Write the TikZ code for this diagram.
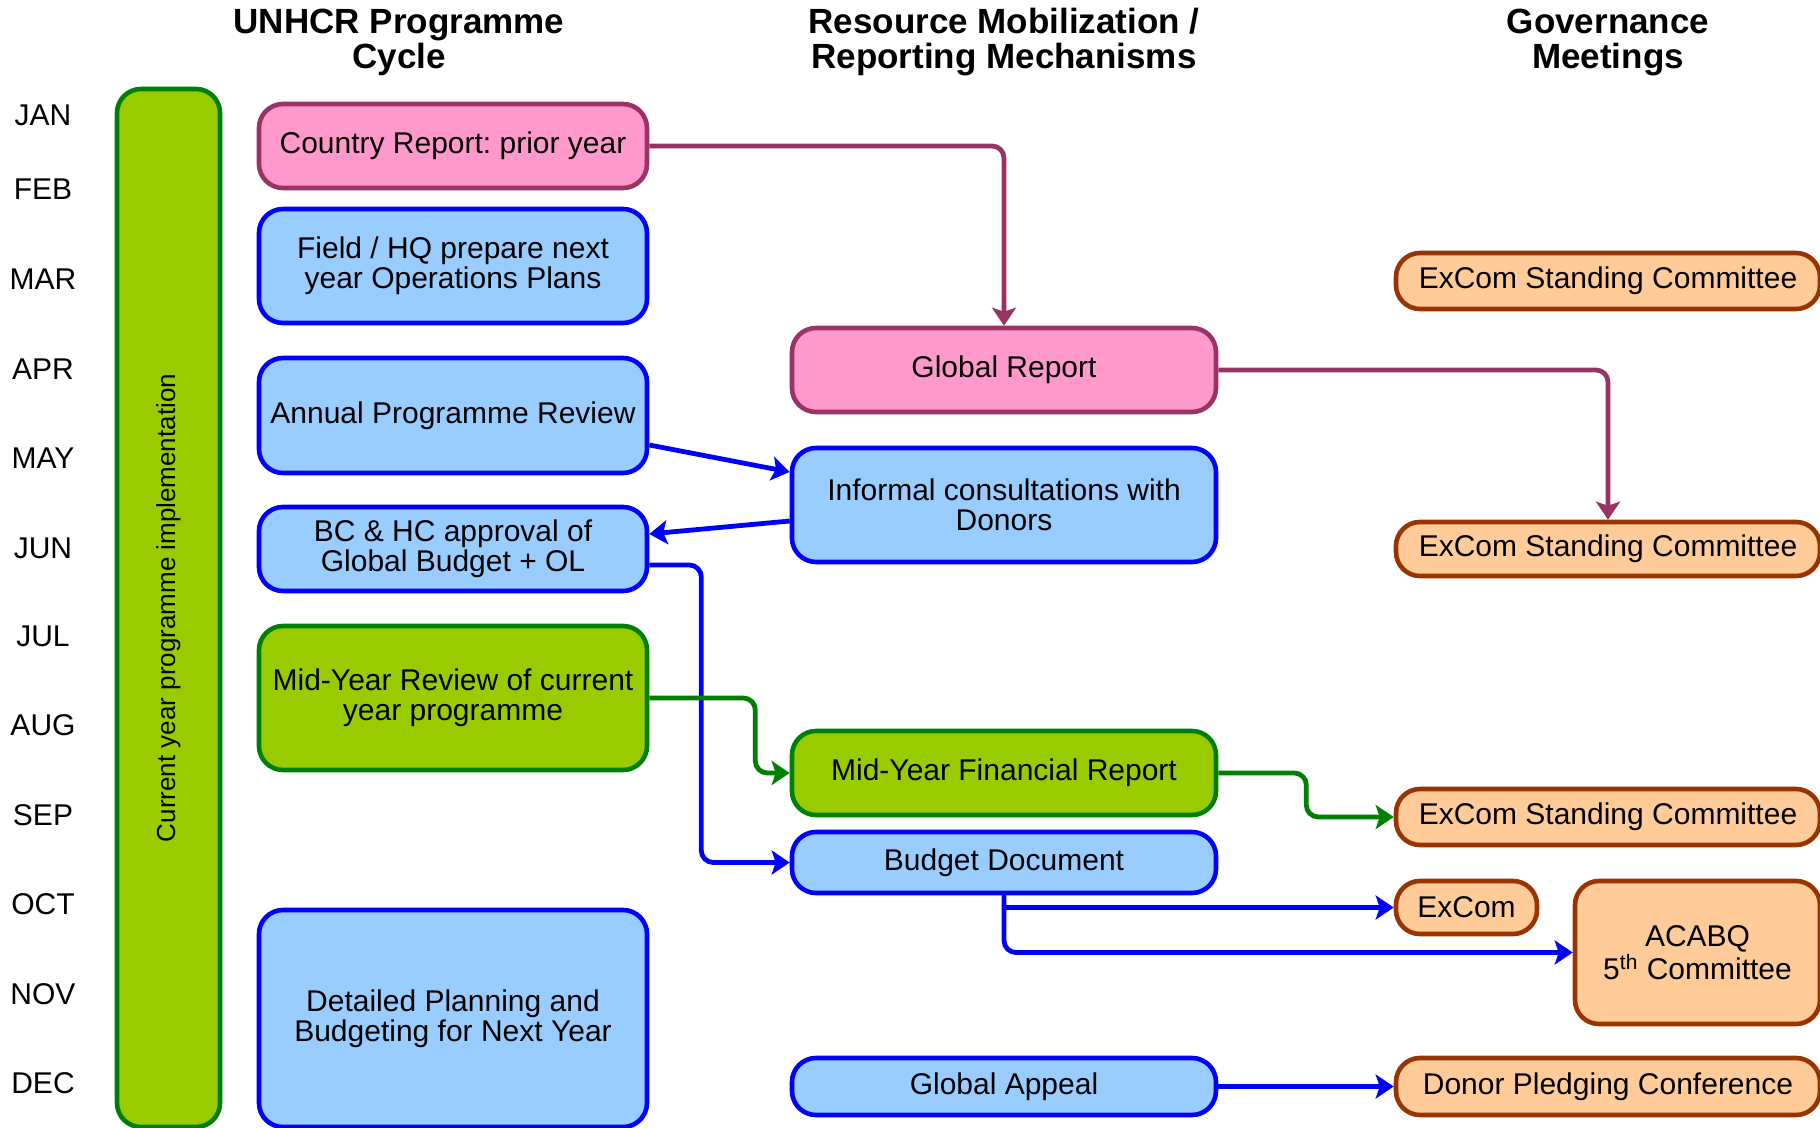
\documentclass[tikz,border=0pt]{standalone}
\usepackage{fontspec}
\setmainfont{Liberation Sans}
\usetikzlibrary{arrows.meta,calc}
\frenchspacing
\definecolor{pinkfill}{HTML}{FF99CC}
\definecolor{pinkline}{HTML}{993366}
\definecolor{bluefill}{HTML}{99CCFF}
\definecolor{blueline}{HTML}{0000FF}
\definecolor{greenfill}{HTML}{99CC00}
\definecolor{greenline}{HTML}{008000}
\definecolor{orangefill}{HTML}{FFCC99}
\definecolor{orangeline}{HTML}{993300}
\newcommand\myBody{\fontsize{15pt}{15pt}\selectfont}
\newcommand\myHead{\fontsize{17.5pt}{17.5pt}\selectfont\bfseries}
\tikzset{
  box/.style={draw, rounded corners=12pt, line width=2.3pt, align=center, inner sep=0pt, font=\myBody},
  pinkbox/.style={box, fill=pinkfill, draw=pinkline},
  bluebox/.style={box, fill=bluefill, draw=blueline},
  greenbox/.style={box, fill=greenfill, draw=greenline},
  orangebox/.style={box, fill=orangefill, draw=orangeline},
  leftcol/.style={minimum width=194pt},
  midcol/.style={minimum width=212pt},
  month/.style={font=\myBody, inner sep=0pt},
  header/.style={font=\myHead, align=center, inner sep=0pt},
  conn/.style={line width=2.4pt, rounded corners=6pt, -{Stealth[length=9pt,width=12pt,inset=2pt]}},
  pconn/.style={conn, draw=pinkline},
  bconn/.style={conn, draw=blueline},
  gconn/.style={conn, draw=greenline}
}
\begin{document}
\begin{tikzpicture}[x=0.5pt, y=-0.5pt]
\clip (0,0) rectangle (1820,1128);
\fill[white] (0,0) rectangle (1820,1128);

% headers
\node[header] (h1) at (399,42) {UNHCR Programme\\Cycle};
\node[header] (h2) at (1004,42) {Resource Mobilization /\\Reporting Mechanisms};
\node[header] (h3) at (1608,42) {Governance\\Meetings};

% months
\node[month] (m1) at (43,115) {JAN};
\node[month] (m2) at (43,189) {FEB};
\node[month] (m3) at (43,279) {MAR};
\node[month] (m4) at (43,369) {APR};
\node[month] (m5) at (43,458) {MAY};
\node[month] (m6) at (43,548) {JUN};
\node[month] (m7) at (43,636) {JUL};
\node[month] (m8) at (43,725) {AUG};
\node[month] (m9) at (43,815) {SEP};
\node[month] (m10) at (43,904) {OCT};
\node[month] (m11) at (43,994) {NOV};
\node[month] (m12) at (43,1083) {DEC};

% implementation bar
\node[greenbox, rotate=90, minimum width=519pt, minimum height=51.5pt, font=\fontsize{13pt}{13pt}\selectfont] (bar) at (168.5,608) {Current year programme implementation};

% left column
\node[pinkbox, leftcol, minimum height=42pt] (cr) at (453,146) {Country Report: prior year};
\node[bluebox, leftcol, minimum height=57pt] (fhq) at (453,266) {Field / HQ prepare next\\year Operations Plans};
\node[bluebox, leftcol, minimum height=57.5pt] (apr) at (453,415.5) {Annual Programme Review};
\node[bluebox, leftcol, minimum height=42pt] (bc) at (453,549) {BC \& HC approval of\\Global Budget + OL};
\node[greenbox, leftcol, minimum height=72pt] (myr) at (453,698) {Mid-Year Review of current\\year programme};
\node[bluebox, leftcol, minimum height=108.5pt] (dpb) at (453,1018.5) {Detailed Planning and\\Budgeting for Next Year};

% middle column
\node[pinkbox, midcol, minimum height=42pt] (gr) at (1004,370) {Global Report};
\node[bluebox, midcol, minimum height=57pt] (ic) at (1004,505) {Informal consultations with\\Donors};
\node[greenbox, midcol, minimum height=42pt] (myf) at (1004,773) {Mid-Year Financial Report};
\node[bluebox, midcol, minimum height=30.5pt] (bd) at (1004,862.5) {Budget Document};
\node[bluebox, midcol, minimum height=28.5pt] (ga) at (1004,1086.5) {Global Appeal};

% right column
\node[orangebox, midcol, minimum height=28pt] (sc1) at (1608,281) {ExCom Standing Committee};
\node[orangebox, midcol, minimum height=27pt] (sc2) at (1608,549) {ExCom Standing Committee};
\node[orangebox, midcol, minimum height=28pt] (sc3) at (1608,817) {ExCom Standing Committee};
\node[orangebox, minimum width=70.5pt, minimum height=26.5pt] (excom) at (1466.5,907.5) {ExCom};
\node[orangebox, minimum width=122.5pt, minimum height=71.5pt, font=\fontsize{15pt}{15.5pt}\selectfont] (acabq) at (1697.5,952.5) {ACABQ\\5\textsuperscript{th} Committee};
\node[orangebox, midcol, minimum height=28.5pt] (dpc) at (1608,1086.5) {Donor Pledging Conference};

% connectors
\draw[pconn] (cr.east) -| (gr.north);
\draw[pconn] (gr.east) -| (sc2.north);
\draw[bconn, rounded corners=0pt] ([yshift=-14.75pt]apr.east) -- ([yshift=16.5pt]ic.west);
\draw[bconn, rounded corners=0pt] ([yshift=-8pt]ic.west) -- ([yshift=7.5pt]bc.east);
\draw[bconn] ([yshift=-8pt]bc.east) -- ++(52,0) |- (bd.west);
\draw[gconn] (myr.east) -- ++(106,0) |- (myf.west);
\draw[gconn] (myf.east) -- ++(88,0) |- (sc3.west);
\draw[bconn, rounded corners=0pt] (bd.south) |- (excom.west);
\draw[bconn] (bd.south) |- (acabq.west);
\draw[bconn] (ga.east) -- (dpc.west);
\end{tikzpicture}
\end{document}
